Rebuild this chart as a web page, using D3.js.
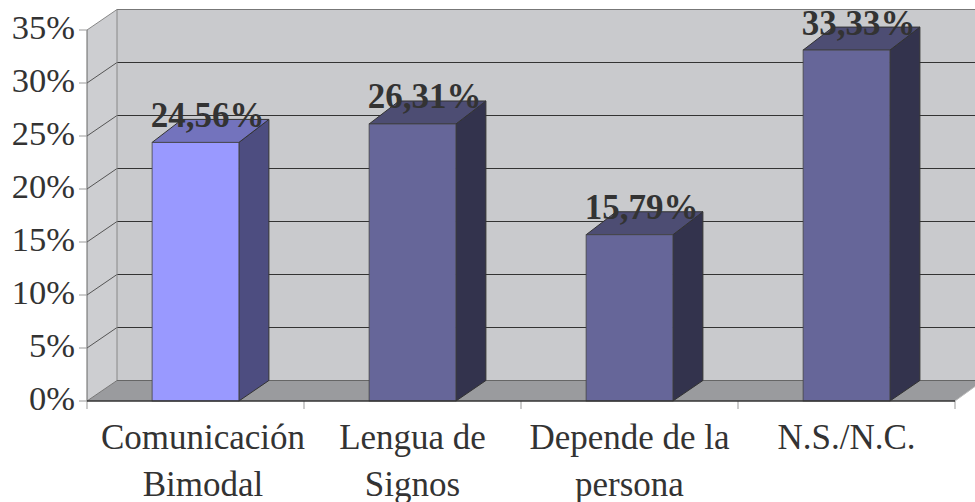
<!DOCTYPE html>
<html><head><meta charset="utf-8">
<script src="https://cdnjs.cloudflare.com/ajax/libs/d3/7.8.5/d3.min.js"></script>
<style>html,body{margin:0;padding:0;background:#fff}svg{display:block}text{font-family:"Liberation Serif",serif;fill:#333}</style>
</head><body><svg width="975" height="502"></svg>
<script>
const categories = [["Comunicación","Bimodal"],["Lengua de","Signos"],["Depende de la","persona"],["N.S./N.C."]];
const labels = ["24,56%","26,31%","15,79%","33,33%"];
const values = [24.56,26.31,15.79,33.33];
const ticks = [0,5,10,15,20,25,30,35];
const frontColors = ["#9999ff","#666699","#666699","#666699"];
const topColors = ["#7373bd","#4d4d73","#4d4d73","#4d4d73"];
const sideColors = ["#4d4d80","#33334d","#33334d","#33334d"];

const svg = d3.select("svg");
const L=87,R=955,B=401,T=30,DX=30,DY=20.5,TOPDY=23;
const keys = categories.map((c,i)=>i);
const x = d3.scaleBand().domain(keys).range([L,R]).paddingInner(.6).paddingOuter(.3);
const y = d3.scaleLinear().domain([0,35]).range([B,T]);
const yBar = d3.scaleLinear().domain([0,35]).range([B,B-368.5]);
const xEdges = d3.range(5).map(i=>L+i*x.step());
const poly = a=>a.map(p=>p.join(",")).join(" ");

// walls
svg.append("polygon").attr("points",poly([[L,y(35)],[L+DX,y(35)-DY],[L+DX,B-DY],[L,B]])).attr("fill","#cdced1");
svg.append("rect").attr("x",L+DX).attr("y",y(35)-DY).attr("width",975-L-DX).attr("height",B-y(35)).attr("fill","#c9cacd");
svg.append("polygon").attr("points",poly([[L,B],[L+DX,B-DY],[975,B-DY],[975,B-DY+6],[R,B]])).attr("fill","#9a9b9e");

// grid
ticks.forEach(t=>{
  const yy=y(t), c = t===35?"#777":"#333";
  if(t>0){
    svg.append("line").attr("x1",L+DX).attr("x2",975).attr("y1",yy-DY).attr("y2",yy-DY).attr("stroke",c).attr("stroke-width",1.2);
    svg.append("line").attr("x1",L).attr("x2",L+DX).attr("y1",yy).attr("y2",yy-DY).attr("stroke",t===35?"#888":"#555");
  }
});
svg.append("line").attr("x1",L+DX).attr("x2",L+DX).attr("y1",y(35)-DY).attr("y2",B-DY).attr("stroke","#888");
svg.append("line").attr("x1",L+DX).attr("x2",975).attr("y1",B-DY).attr("y2",B-DY).attr("stroke","#666");
svg.append("line").attr("x1",L).attr("x2",L+DX).attr("y1",B).attr("y2",B-DY).attr("stroke","#777");
svg.append("line").attr("x1",R).attr("x2",975).attr("y1",B).attr("y2",B-DY+6).attr("stroke","#bbb");
svg.append("line").attr("x1",L).attr("x2",L).attr("y1",T).attr("y2",B).attr("stroke","#666");

// ticks
ticks.forEach(t=>{
  svg.append("line").attr("x1",L-8).attr("x2",L).attr("y1",y(t)).attr("y2",y(t)).attr("stroke","#999");
  svg.append("text").attr("x",75).attr("y",y(t)+9).attr("text-anchor","end").attr("font-size",34.5).text(t+"%");
});
xEdges.forEach(v=>svg.append("line").attr("x1",v).attr("x2",v).attr("y1",B).attr("y2",B+8).attr("stroke","#999"));

// bars
values.forEach((v,i)=>{
  const x0=x(i), x1=x0+x.bandwidth(), yt=yBar(v);
  svg.append("polygon").attr("points",poly([[x1,yt],[x1+DX,yt-TOPDY],[x1+DX,B-DY],[x1,B]])).attr("fill",sideColors[i]).attr("stroke","#333");
  svg.append("polygon").attr("points",poly([[x0,yt],[x0+DX,yt-TOPDY],[x1+DX,yt-TOPDY],[x1,yt]])).attr("fill",topColors[i]).attr("stroke","#333");
  svg.append("rect").attr("x",x0).attr("y",yt).attr("width",x.bandwidth()).attr("height",B-yt).attr("fill",frontColors[i]).attr("stroke","#444").attr("stroke-width",.8);
});
svg.append("line").attr("x1",L).attr("x2",R).attr("y1",B).attr("y2",B).attr("stroke","#333").attr("stroke-width",1.3);

// value labels
values.forEach((v,i)=>{
  svg.append("text").attr("x",x(i)+x.bandwidth()/2+12).attr("y",yBar(v)-15.5).attr("text-anchor","middle")
    .attr("font-size",35).attr("font-weight","bold").text(labels[i]);
});

// category labels (the first is nudged right in the reference)
categories.forEach((lines,i)=>{
  lines.forEach((s,j)=>svg.append("text").attr("x",x(i)+x.bandwidth()/2+(i===0?7.5:0)).attr("y",449+j*46.5)
    .attr("text-anchor","middle").attr("font-size",35).text(s));
});
</script></body></html>
